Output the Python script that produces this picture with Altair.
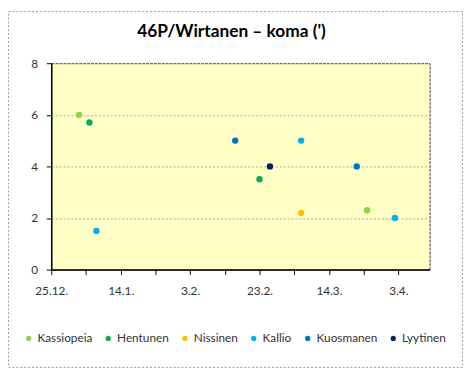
import altair as alt
import pandas as pd

# ---- data ----
observers = ["Kassiopeia", "Hentunen", "Kallio", "Kuosmanen", "Hentunen", "Lyytinen",
             "Kallio", "Nissinen", "Kuosmanen", "Kassiopeia", "Kallio"]
dates = ["2020-01-02", "2020-01-05", "2020-01-07", "2020-02-16", "2020-02-23", "2020-02-26",
         "2020-03-06", "2020-03-06", "2020-03-22", "2020-03-25", "2020-04-02"]
koma = [6.0, 5.7, 1.5, 5.0, 3.5, 4.0, 5.0, 2.2, 4.0, 2.3, 2.0]

legend_order = ["Kassiopeia", "Hentunen", "Nissinen", "Kallio", "Kuosmanen", "Lyytinen"]
legend_colors = ["#92D050", "#00B050", "#FFC000", "#00B0F0", "#0070C0", "#002060"]

axis_start = "2019-12-25"
axis_end = "2020-04-12"
y_ticks = [0, 2, 4, 6, 8]

df = pd.DataFrame({"Havaitsija": observers, "Päivä": dates, "Koma": koma})


def ms(s):
    return int(pd.Timestamp(s, tz="UTC").value // 10**6)


start_ms = ms(axis_start)
end_ms = ms(axis_end)
tick_ms = [start_ms + i * 10 * 86400000 for i in range(11)]

label_expr = (
    f"(round((datum.value - {start_ms}) / 86400000) % 20 == 0) "
    "? utcFormat(datum.value, '%-d.%-m.') : ''"
)

FONT = "Lato"

points = alt.Chart(df).mark_circle(size=42, opacity=1).encode(
    x=alt.X(
        "Päivä:T",
        scale=alt.Scale(type="utc", domain=[start_ms, end_ms]),
        axis=alt.Axis(
            values=tick_ms, labelExpr=label_expr, title=None, grid=False,
            tickSize=5, tickColor="black", domainColor="black", domainWidth=1.5,
            labelPadding=11, labelFont=FONT, labelFontSize=12, labelColor="#333333",
            labelFlush=False, labelOverlap=False,
        ),
    ),
    y=alt.Y(
        "Koma:Q",
        scale=alt.Scale(domain=[0, 8], nice=False),
        axis=alt.Axis(
            values=y_ticks, title=None, grid=True, gridColor="#A6A6A6", gridDash=[2, 2],
            gridOpacity=alt.condition("datum.value == 8", alt.value(0), alt.value(1)),
            tickSize=5, tickColor="black", domainColor="black", domainWidth=1.5,
            labelPadding=9, labelFont=FONT, labelFontSize=12, labelColor="#333333",
        ),
    ),
    color=alt.Color(
        "Havaitsija:N",
        scale=alt.Scale(domain=legend_order, range=legend_colors),
        legend=alt.Legend(
            title=None, orient="none", direction="horizontal", legendX=-29, legendY=274,
            symbolType="circle", symbolSize=28, symbolStrokeWidth=0,
            labelFont=FONT, labelFontSize=12,
            labelColor="#333333", columnPadding=10, labelOffset=3,
        ),
    ),
)

frame = alt.Chart(pd.DataFrame({"a": [0]})).mark_rect(
    fill="transparent", stroke="#9A9A9A", strokeDash=[2, 2], strokeWidth=1
).encode(
    x=alt.value(-43.5), x2=alt.value(418.5), y=alt.value(-52.5), y2=alt.value(309.5)
)

chart = alt.layer(frame, points).properties(
    width=385,
    height=210,
    title=alt.TitleParams(
        "46P/Wirtanen – koma (')", font=FONT, fontSize=17.6, fontWeight="bold",
        color="black", anchor="middle", frame="group", dx=-9, offset=-43.5,
        baseline="alphabetic",
    ),
    autosize=alt.AutoSizeParams(type="none"),
    padding={"left": 44, "top": 53, "right": 35, "bottom": 100},
).configure(
    background="white",
    view=alt.ViewConfig(fill="#FFFFC6", stroke="#404040", strokeDash=[3, 1], strokeWidth=1),
)

chart.save("out.html", embed_options={"renderer": "svg", "actions": False})
